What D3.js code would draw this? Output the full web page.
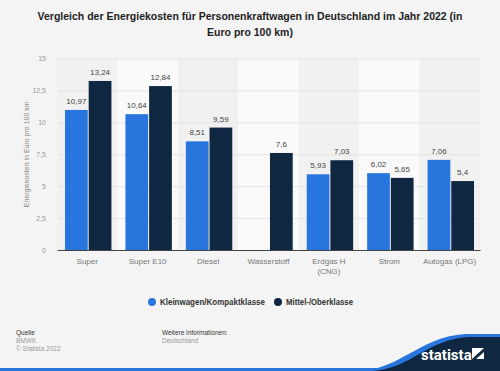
<!DOCTYPE html>
<html>
<head>
<meta charset="utf-8">
<script src="https://cdn.jsdelivr.net/npm/d3@7"></script>
<style>
  body { margin: 0; background: #f4f4f4; }
  svg { display: block; font-family: "Liberation Sans", Arial, sans-serif; }
</style>
</head>
<body>
<div id="chart"></div>
<script>
// data
const categories = ["Super", "Super E10", "Diesel", "Wasserstoff", "Erdgas H (CNG)", "Strom", "Autogas (LPG)"]
const seriesNames = ["Kleinwagen/Kompaktklasse", "Mittel-/Oberklasse"]
const kleinwagen = [10.97, 10.64, 8.51, null, 5.93, 6.02, 7.06]
const mittelklasse = [13.24, 12.84, 9.59, 7.6, 7.03, 5.65, 5.4]
const yTicks = [0, 2.5, 5, 7.5, 10, 12.5, 15]

const colors = ["#2876dd", "#0f2741"]
const W = 500, H = 371
const margin = {top: 58.5, right: 20, bottom: 121, left: 57}
const width = W - margin.left - margin.right
const height = H - margin.top - margin.bottom

const fmt = v => String(v).replace(".", ",")

const svg = d3.select("#chart").append("svg")
    .attr("width", W)
    .attr("height", H)
    .attr("viewBox", `0 0 ${W} ${H}`)

svg.append("rect").attr("width", W).attr("height", H).attr("fill", "#f4f4f4")

// title
svg.append("text")
    .attr("x", W / 2).attr("y", 20)
    .attr("text-anchor", "middle")
    .attr("font-size", 10.5).attr("font-weight", "bold").attr("fill", "#222")
    .selectAll("tspan")
    .data(["Vergleich der Energiekosten für Personenkraftwagen in Deutschland im Jahr 2022 (in", "Euro pro 100 km)"])
  .enter().append("tspan")
    .attr("x", W / 2)
    .attr("dy", (d, i) => i ? 15.5 : 0)
    .text(d => d)

const g = svg.append("g").attr("transform", `translate(${margin.left},${margin.top})`)

const x = d3.scaleBand().domain(categories).range([0, width])
const x1 = d3.scaleBand().domain(seriesNames).range([8, x.bandwidth() - 6]).paddingInner(0.04)
const y = d3.scaleLinear().domain([0, 15]).range([height, 0])

// alternating column backgrounds
g.selectAll(".band")
    .data(categories)
  .enter().append("rect")
    .attr("x", d => x(d))
    .attr("y", 0)
    .attr("width", x.bandwidth())
    .attr("height", height)
    .attr("fill", (d, i) => i % 2 ? "#fafafa" : "#f1f1f1")

// gridlines
g.append("g")
    .call(d3.axisLeft(y).tickValues(yTicks).tickSize(-width).tickFormat(""))
    .call(s => s.select(".domain").remove())
    .call(s => s.selectAll("line").attr("stroke", "#e4e4e4"))

// y axis labels
g.append("g")
    .call(d3.axisLeft(y).tickValues(yTicks).tickSize(0).tickPadding(11).tickFormat(fmt))
    .call(s => s.select(".domain").remove())
    .call(s => s.selectAll("text").attr("font-size", 7).attr("fill", "#999").attr("font-family", "Liberation Sans, Arial, sans-serif"))

svg.append("text")
    .attr("transform", `translate(29,${margin.top + height / 2}) rotate(-90)`)
    .attr("text-anchor", "middle")
    .attr("font-size", 7).attr("fill", "#888")
    .text("Energiekosten in Euro pro 100 km")

// bars
const rows = categories.map((c, i) => ({cat: c, values: [kleinwagen[i], mittelklasse[i]]}))
const groups = g.selectAll(".cat")
    .data(rows)
  .enter().append("g")
    .attr("transform", d => `translate(${x(d.cat)},0)`)

const cells = groups.selectAll(".bar")
    .data(d => d.values.map((v, j) => ({key: seriesNames[j], value: v, j})).filter(e => e.value != null))
  .enter()

cells.append("rect")
    .attr("x", d => x1(d.key))
    .attr("y", d => y(d.value))
    .attr("width", x1.bandwidth())
    .attr("height", d => height - y(d.value))
    .attr("fill", d => colors[d.j])

cells.append("text")
    .attr("x", d => x1(d.key) + x1.bandwidth() / 2)
    .attr("y", d => y(d.value) - 6)
    .attr("text-anchor", "middle")
    .attr("font-size", 8).attr("fill", "#444")
    .text(d => fmt(d.value))

// x axis
const xAxis = g.append("g")
    .attr("transform", `translate(0,${height})`)
    .call(d3.axisBottom(x).tickSize(0).tickPadding(9).tickFormat(""))
xAxis.select(".domain").attr("stroke", "#444").attr("stroke-width", 1)
xAxis.selectAll(".tick").append("text")
    .attr("text-anchor", "middle")
    .attr("font-size", 8).attr("fill", "#777")
    .attr("y", 14)
    .each(function(d) {
      const lines = d === "Erdgas H (CNG)" ? ["Erdgas H", "(CNG)"] : [d]
      d3.select(this).selectAll("tspan").data(lines).enter().append("tspan")
        .attr("x", 0).attr("dy", (l, i) => i ? 9.5 : 0).text(l => l)
    })

// legend
const legend = svg.append("g").attr("transform", "translate(0,302)")
const legendX = [152, 278]
const legendW = [105, 67]
seriesNames.forEach((name, i) => {
  legend.append("circle").attr("cx", legendX[i]).attr("cy", 0).attr("r", 4).attr("fill", colors[i])
  legend.append("text").attr("x", legendX[i] + 8).attr("y", 3)
    .attr("font-size", 8.5).attr("font-weight", "bold").attr("fill", "#333")
    .attr("textLength", legendW[i]).attr("lengthAdjust", "spacingAndGlyphs")
    .text(name)
})

// footer
const footer = [
  {x: 16, y: 335, t: "Quelle", c: "#333"},
  {x: 16, y: 343, t: "BMWK", c: "#999"},
  {x: 16, y: 351, t: "© Statista 2022", c: "#999"},
  {x: 162, y: 335, t: "Weitere Informationen:", c: "#333"},
  {x: 162, y: 343, t: "Deutschland", c: "#999"}
]
svg.selectAll(".foot").data(footer).enter().append("text")
    .attr("x", d => d.x).attr("y", d => d.y)
    .attr("font-size", 6.5).attr("fill", d => d.c)
    .text(d => d.t)

// logo
svg.append("rect").attr("x", 0).attr("y", 368).attr("width", W).attr("height", 3).attr("fill", "#2876dd")
svg.append("path")
    .attr("d", "M360,371 C400,369 420,337 465,334 L500,334 L500,371 Z")
    .attr("fill", "#2876dd")
svg.append("path")
    .attr("d", "M372,371 C410,369 428,339 468,337 L500,337 L500,371 Z")
    .attr("fill", "#0f2741")
svg.append("text")
    .attr("x", 421).attr("y", 360)
    .attr("font-size", 15).attr("font-weight", "bold").attr("fill", "#fff")
    .attr("font-family", "Roboto, Liberation Sans, sans-serif")
    .text("statista")
svg.append("rect").attr("x", 472).attr("y", 348).attr("width", 12).attr("height", 11).attr("fill", "#fff")
svg.append("path").attr("d", "M472,359 L484,348 L484,352 L476,359 Z").attr("fill", "#0f2741")
</script>
</body>
</html>
